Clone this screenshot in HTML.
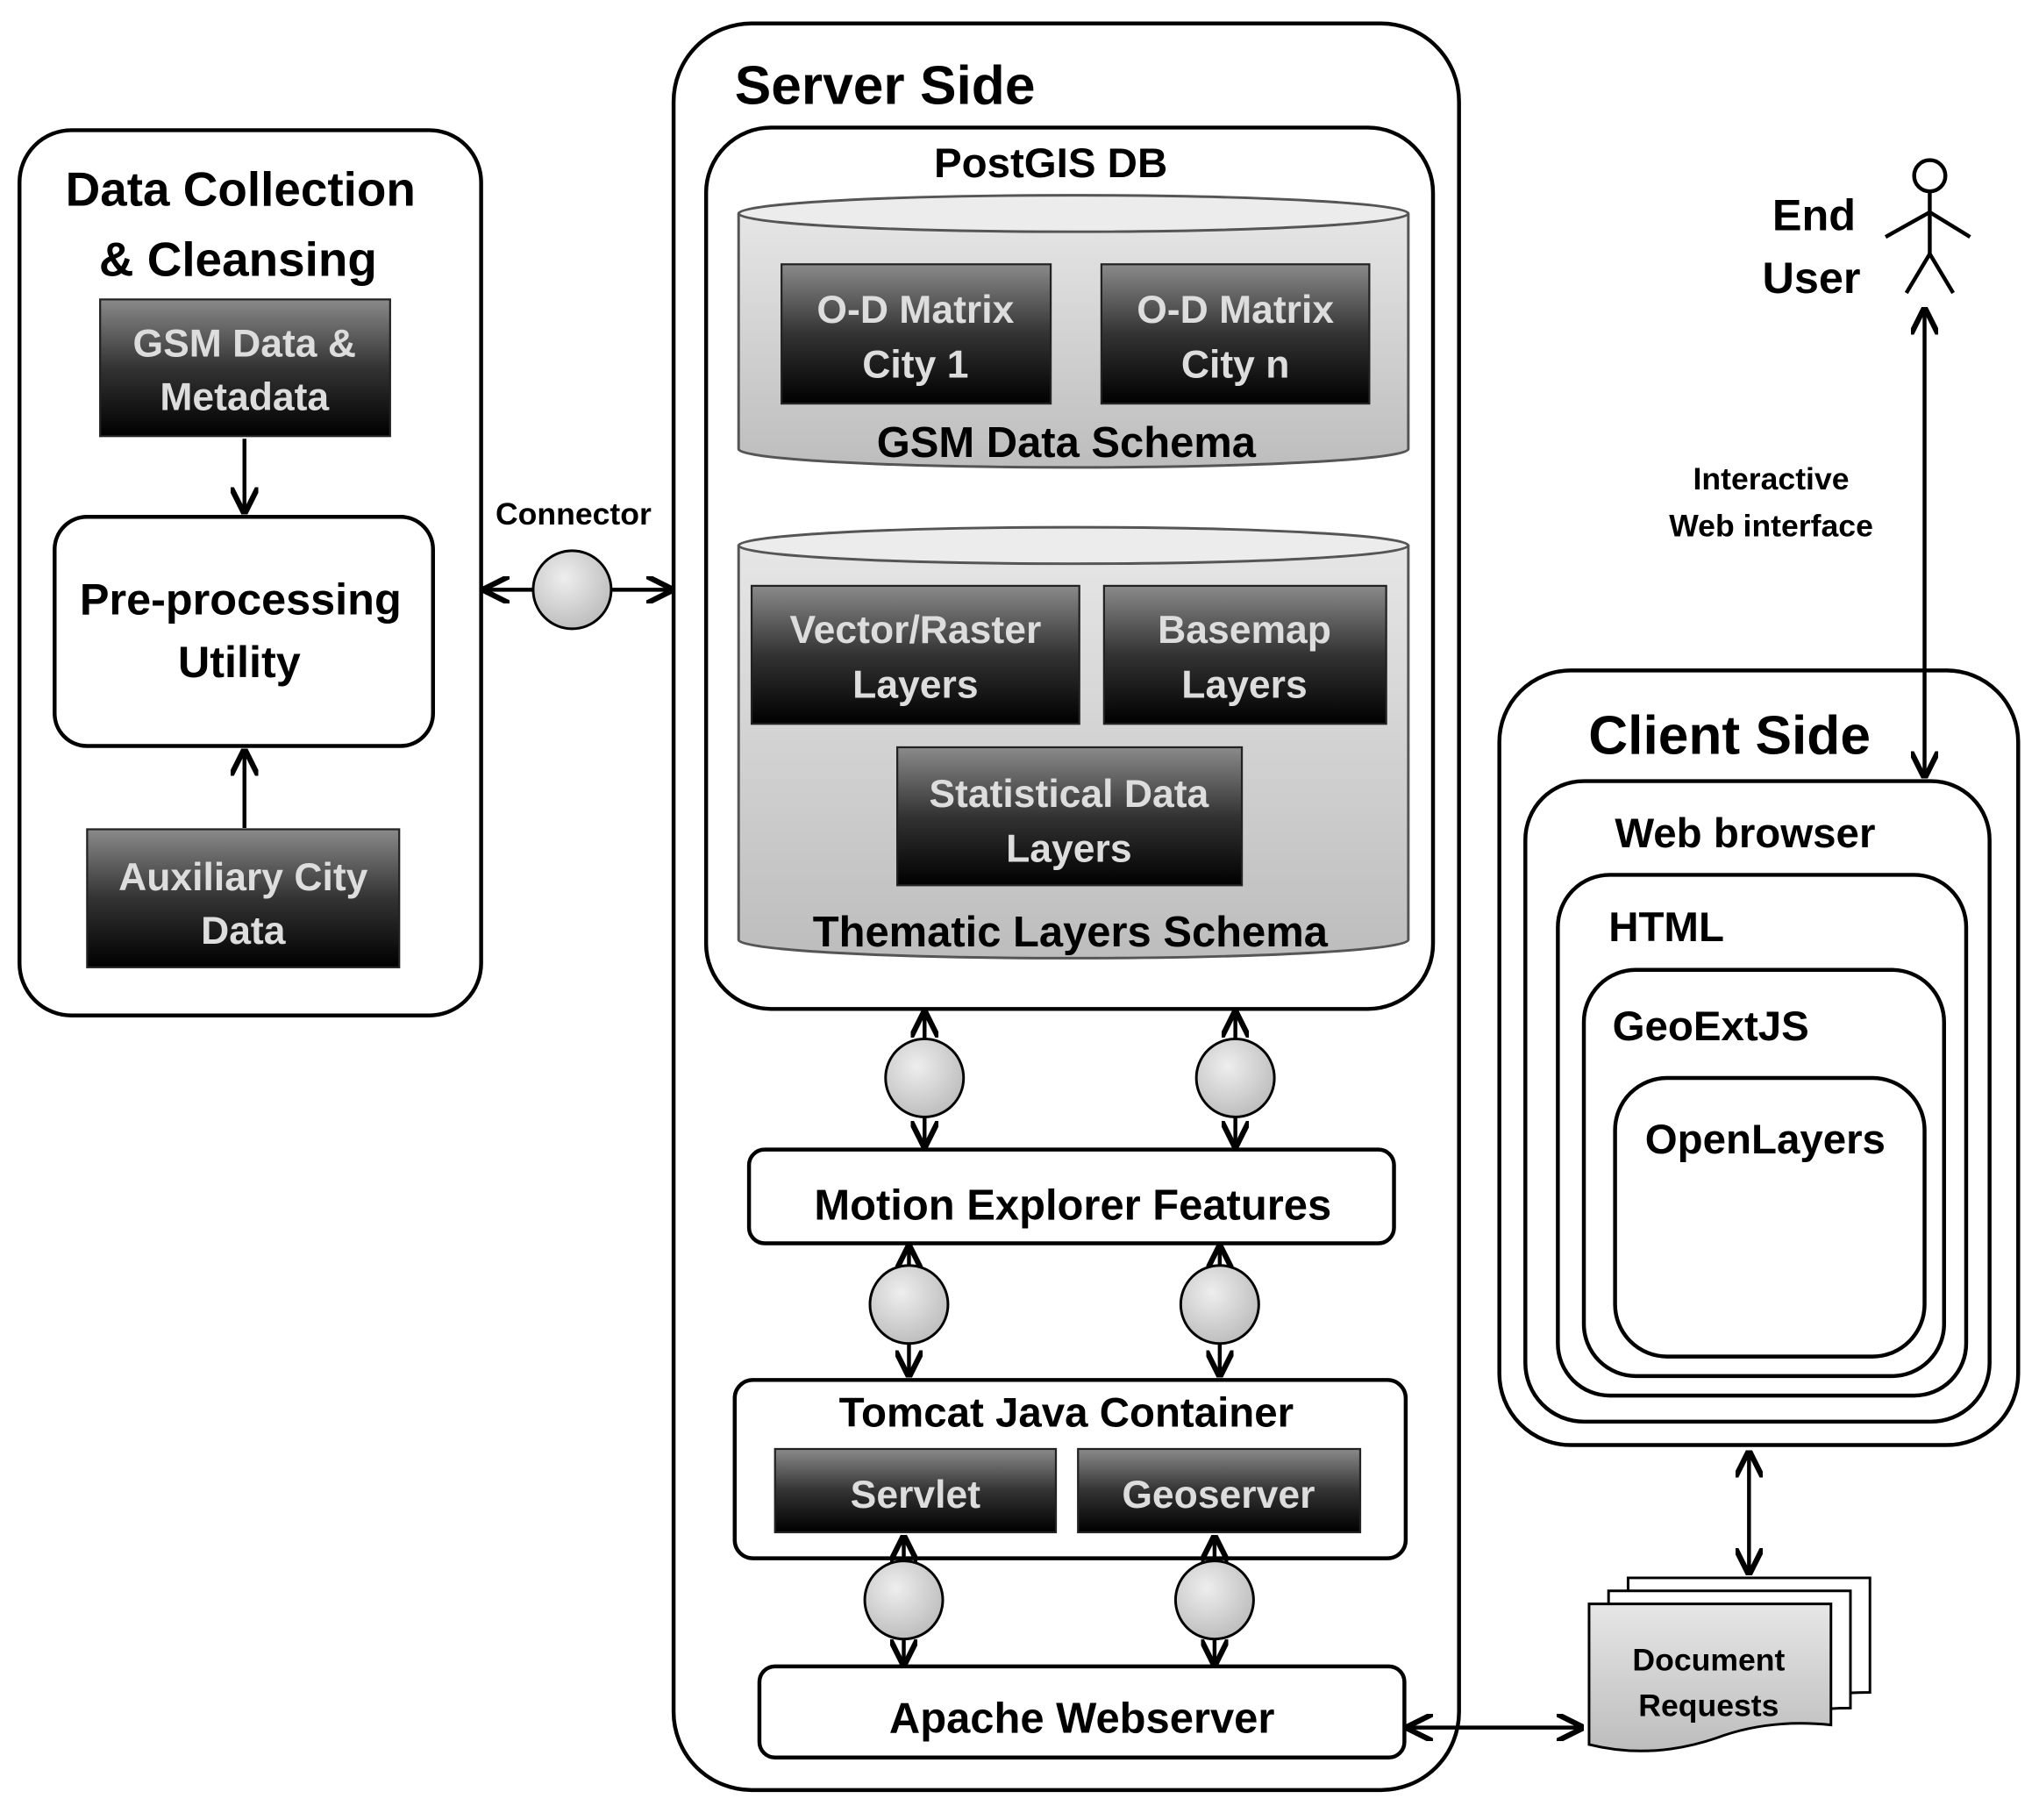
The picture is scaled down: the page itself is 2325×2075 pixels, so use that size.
<!DOCTYPE html>
<html><head><meta charset="utf-8"><style>
html,body{margin:0;padding:0;background:#fff;}
svg{display:block;}
text{font-family:"Liberation Sans",sans-serif;font-weight:bold;}
</style></head><body>
<svg width="2325" height="2075" viewBox="0 0 1568 1398" preserveAspectRatio="none" xmlns="http://www.w3.org/2000/svg">
<defs>
<linearGradient id="dk" x1="0" y1="0" x2="0" y2="1"><stop offset="0" stop-color="#8a8a8a"/><stop offset="0.5" stop-color="#333"/><stop offset="1" stop-color="#000"/></linearGradient>
<linearGradient id="cyl" x1="0" y1="0" x2="0" y2="1"><stop offset="0" stop-color="#e6e6e6"/><stop offset="1" stop-color="#bdbdbd"/></linearGradient>
<radialGradient id="cir" cx="0.4" cy="0.35" r="0.7"><stop offset="0" stop-color="#eee"/><stop offset="1" stop-color="#bbb"/></radialGradient>
<marker id="ah" viewBox="0 0 10 10" refX="9" refY="5" markerWidth="7" markerHeight="7" orient="auto-start-reverse"><path d="M0,0 L10,5 L0,10" fill="none" stroke="#000" stroke-width="2"/></marker>
</defs>
<g fill="none" stroke="#000" stroke-width="3">
<rect x="15" y="100" width="355" height="680" rx="40"/>
<rect x="42" y="397" width="291" height="176" rx="25"/>
<rect x="518" y="18" width="604" height="1357" rx="60"/>
<rect x="543" y="98" width="559" height="677" rx="50"/>
<rect x="576" y="883" width="496" height="72" rx="12"/>
<rect x="565" y="1060" width="516" height="137" rx="14"/>
<rect x="584" y="1280" width="496" height="70" rx="12"/>
<rect x="1153" y="515" width="399" height="595" rx="55"/>
<rect x="1173" y="600" width="357" height="492" rx="45"/>
<rect x="1198" y="672" width="314" height="400" rx="40"/>
<rect x="1218" y="745" width="277" height="312" rx="40"/>
<rect x="1242" y="828" width="238" height="214" rx="40"/>
</g>
<g stroke="#555" stroke-width="2" fill="url(#cyl)">
<path d="M568,164 L568,345 A257.5,14 0 0 0 1083,345 L1083,164"/>
<ellipse cx="825.5" cy="164" rx="257.5" ry="14" fill="#ececec"/>
<path d="M568,419 L568,722 A257.5,14 0 0 0 1083,722 L1083,419"/>
<ellipse cx="825.5" cy="419" rx="257.5" ry="14" fill="#ececec"/>
</g>
<g fill="url(#dk)" stroke="#222" stroke-width="1.5">
<rect x="77" y="230" width="223" height="105"/>
<rect x="67" y="637" width="240" height="106"/>
<rect x="601" y="203" width="207" height="107"/>
<rect x="847" y="203" width="206" height="107"/>
<rect x="578" y="450" width="252" height="106"/>
<rect x="849" y="450" width="217" height="106"/>
<rect x="690" y="574" width="265" height="106"/>
<rect x="596" y="1113" width="216" height="64"/>
<rect x="829" y="1113" width="217" height="64"/>
</g>
<g fill="#ddd" font-size="30" text-anchor="middle">
<text x="188" y="274">GSM Data &amp;</text><text x="188" y="315">Metadata</text>
<text x="187" y="684">Auxiliary City</text><text x="187" y="725">Data</text>
<text x="704" y="248">O-D Matrix</text><text x="704" y="290">City 1</text>
<text x="950" y="248">O-D Matrix</text><text x="950" y="290">City n</text>
<text x="704" y="494">Vector/Raster</text><text x="704" y="536">Layers</text>
<text x="957" y="494">Basemap</text><text x="957" y="536">Layers</text>
<text x="822" y="620">Statistical Data</text><text x="822" y="662">Layers</text>
<text x="704" y="1158">Servlet</text><text x="937" y="1158">Geoserver</text>
</g>
<g stroke="#000" stroke-width="3" fill="none">
<line x1="188" y1="337" x2="188" y2="393" marker-end="url(#ah)"/>
<line x1="188" y1="636" x2="188" y2="577" marker-end="url(#ah)"/>
<line x1="373" y1="453" x2="516" y2="453" marker-start="url(#ah)" marker-end="url(#ah)"/>
<line x1="711" y1="778" x2="711" y2="880" marker-start="url(#ah)" marker-end="url(#ah)"/>
<line x1="950" y1="778" x2="950" y2="880" marker-start="url(#ah)" marker-end="url(#ah)"/>
<line x1="699" y1="958" x2="699" y2="1056" marker-start="url(#ah)" marker-end="url(#ah)"/>
<line x1="938" y1="958" x2="938" y2="1056" marker-start="url(#ah)" marker-end="url(#ah)"/>
<line x1="695" y1="1181" x2="695" y2="1278" marker-start="url(#ah)" marker-end="url(#ah)"/>
<line x1="934" y1="1181" x2="934" y2="1278" marker-start="url(#ah)" marker-end="url(#ah)"/>
<line x1="1083" y1="1327" x2="1216" y2="1327" marker-start="url(#ah)" marker-end="url(#ah)"/>
<line x1="1345" y1="1116" x2="1345" y2="1208" marker-start="url(#ah)" marker-end="url(#ah)"/>
<line x1="1480" y1="238" x2="1480" y2="596" marker-start="url(#ah)" marker-end="url(#ah)"/>
</g>
<g fill="url(#cir)" stroke="#000" stroke-width="2">
<circle cx="440" cy="453" r="30"/>
<circle cx="711" cy="828" r="30"/><circle cx="950" cy="828" r="30"/>
<circle cx="699" cy="1002" r="30"/><circle cx="938" cy="1002" r="30"/>
<circle cx="695" cy="1229" r="30"/><circle cx="934" cy="1229" r="30"/>
</g>
<g stroke="#000" stroke-width="2" fill="#e4e4e4">
<path d="M1252,1212 L1438,1212 L1438,1300 Q1400,1300 1380,1310 L1252,1310 Z" fill="#fff"/>
<path d="M1237,1222 L1423,1222 L1423,1312 Q1390,1312 1370,1320 L1237,1320 Z" fill="#fff"/>
<path d="M1222,1232 L1408,1232 L1408,1325 Q1360,1320 1320,1335 Q1270,1352 1222,1340 Z" fill="url(#cyl)"/>
</g>
<g stroke="#000" stroke-width="3" fill="none">
<circle cx="1484" cy="135" r="12"/>
<line x1="1484" y1="147" x2="1484" y2="195"/>
<polyline points="1450,182 1484,163 1515,182"/>
<polyline points="1466,225 1484,195 1502,225"/>
</g>
<g fill="#000" text-anchor="middle">
<text x="185" y="158" font-size="37">Data Collection</text>
<text x="183" y="212" font-size="37">&amp; Cleansing</text>
<text x="185" y="472" font-size="34">Pre-processing</text>
<text x="184" y="520" font-size="34">Utility</text>
<text x="441" y="403" font-size="24">Connector</text>
<text x="808" y="136" font-size="32">PostGIS DB</text>
<text x="820" y="351" font-size="33">GSM Data Schema</text>
<text x="823" y="727" font-size="33">Thematic Layers Schema</text>
<text x="825" y="937" font-size="33">Motion Explorer Features</text>
<text x="820" y="1096" font-size="32">Tomcat Java Container</text>
<text x="832" y="1331" font-size="33">Apache Webserver</text>
<text x="1314" y="1283" font-size="24">Document</text>
<text x="1314" y="1318" font-size="24">Requests</text>
<text x="1330" y="579" font-size="42">Client Side</text>
<text x="1342" y="651" font-size="32">Web browser</text>
<text x="1395" y="177" font-size="34">End</text>
<text x="1393" y="225" font-size="34">User</text>
<text x="1362" y="376" font-size="24">Interactive</text>
<text x="1362" y="412" font-size="24">Web interface</text>
</g>
<g fill="#000">
<text x="565" y="80" font-size="42">Server Side</text>
<text x="1237" y="723" font-size="32">HTML</text>
<text x="1240" y="799" font-size="32">GeoExtJS</text>
<text x="1265" y="886" font-size="32">OpenLayers</text>
</g>
</svg>
</body></html>
